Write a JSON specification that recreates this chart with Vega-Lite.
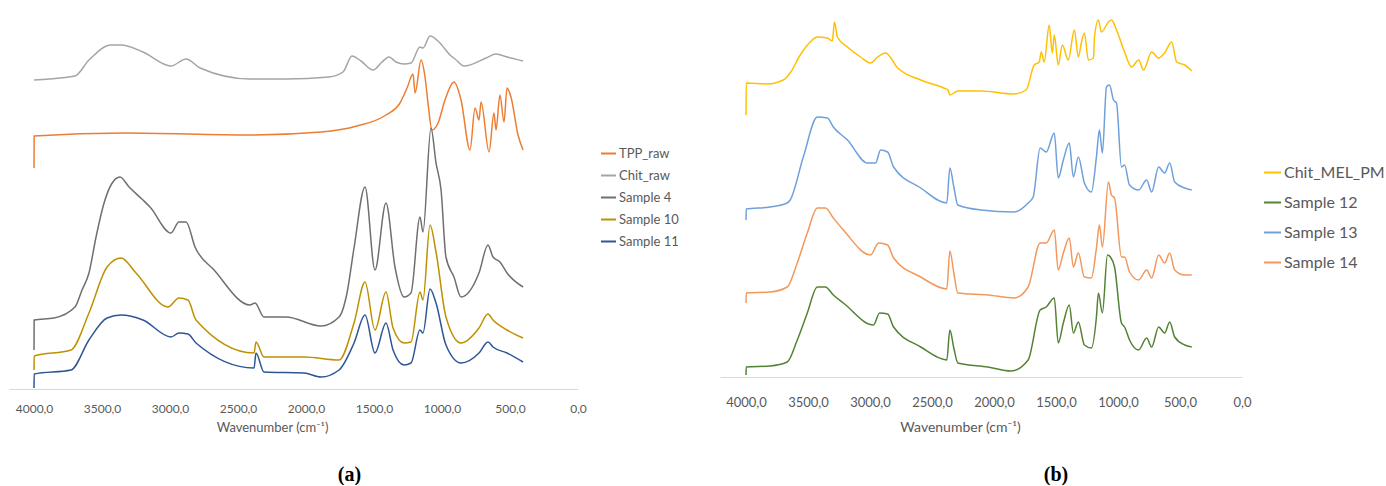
{
  "$schema": "https://vega.github.io/schema/vega-lite/v6.json",
  "background": "white",
  "padding": {"left": 9, "top": 10, "right": 0, "bottom": 0},
  "bounds": "flush",
  "spacing": 142,
  "resolve": {"scale": {"color": "independent"}, "legend": {"color": "independent"}},
  "config": {"view": {"stroke": null}, "font": "Lato"},
  "datasets": {
    "a": [
      {"s":"Chit_raw","w":4000,"v":309},{"s":"Chit_raw","w":3699,"v":313},{"s":"Chit_raw","w":3596,"v":329},{"s":"Chit_raw","w":3434,"v":344},{"s":"Chit_raw","w":3360,"v":344},{"s":"Chit_raw","w":3199,"v":337},{"s":"Chit_raw","w":2993,"v":323},{"s":"Chit_raw","w":2882,"v":330},{"s":"Chit_raw","w":2779,"v":321},{"s":"Chit_raw","w":2412,"v":310},{"s":"Chit_raw","w":2147,"v":310},{"s":"Chit_raw","w":1831,"v":312},{"s":"Chit_raw","w":1728,"v":317},{"s":"Chit_raw","w":1662,"v":333},{"s":"Chit_raw","w":1596,"v":328},{"s":"Chit_raw","w":1507,"v":319},{"s":"Chit_raw","w":1441,"v":327},{"s":"Chit_raw","w":1390,"v":332},{"s":"Chit_raw","w":1338,"v":327},{"s":"Chit_raw","w":1279,"v":325},{"s":"Chit_raw","w":1228,"v":326},{"s":"Chit_raw","w":1162,"v":342},{"s":"Chit_raw","w":1140,"v":341},{"s":"Chit_raw","w":1088,"v":353},{"s":"Chit_raw","w":1022,"v":347},{"s":"Chit_raw","w":941,"v":334},{"s":"Chit_raw","w":904,"v":330},{"s":"Chit_raw","w":838,"v":323},{"s":"Chit_raw","w":676,"v":331},{"s":"Chit_raw","w":603,"v":335},{"s":"Chit_raw","w":522,"v":332},{"s":"Chit_raw","w":404,"v":328},
      {"s":"TPP_raw","w":4000,"v":221},{"s":"TPP_raw","w":3999,"v":253},{"s":"TPP_raw","w":3331,"v":256},{"s":"TPP_raw","w":2412,"v":254},{"s":"TPP_raw","w":1890,"v":257},{"s":"TPP_raw","w":1625,"v":263},{"s":"TPP_raw","w":1412,"v":274},{"s":"TPP_raw","w":1309,"v":286},{"s":"TPP_raw","w":1257,"v":301},{"s":"TPP_raw","w":1213,"v":315},{"s":"TPP_raw","w":1198,"v":296},{"s":"TPP_raw","w":1154,"v":329},{"s":"TPP_raw","w":1125,"v":312},{"s":"TPP_raw","w":1103,"v":286},{"s":"TPP_raw","w":1074,"v":259},{"s":"TPP_raw","w":1029,"v":266},{"s":"TPP_raw","w":978,"v":289},{"s":"TPP_raw","w":912,"v":307},{"s":"TPP_raw","w":860,"v":289},{"s":"TPP_raw","w":794,"v":239},{"s":"TPP_raw","w":757,"v":281},{"s":"TPP_raw","w":728,"v":269},{"s":"TPP_raw","w":713,"v":287},{"s":"TPP_raw","w":654,"v":237},{"s":"TPP_raw","w":618,"v":276},{"s":"TPP_raw","w":603,"v":259},{"s":"TPP_raw","w":574,"v":294},{"s":"TPP_raw","w":544,"v":267},{"s":"TPP_raw","w":522,"v":301},{"s":"TPP_raw","w":493,"v":292},{"s":"TPP_raw","w":441,"v":254},{"s":"TPP_raw","w":404,"v":239},
      {"s":"Sample 4","w":4000,"v":39},{"s":"Sample 4","w":3999,"v":69},{"s":"Sample 4","w":3853,"v":71},{"s":"Sample 4","w":3699,"v":82},{"s":"Sample 4","w":3647,"v":99},{"s":"Sample 4","w":3596,"v":116},{"s":"Sample 4","w":3544,"v":152},{"s":"Sample 4","w":3485,"v":186},{"s":"Sample 4","w":3430,"v":205},{"s":"Sample 4","w":3368,"v":212},{"s":"Sample 4","w":3301,"v":202},{"s":"Sample 4","w":3199,"v":189},{"s":"Sample 4","w":3147,"v":182},{"s":"Sample 4","w":2993,"v":156},{"s":"Sample 4","w":2934,"v":167},{"s":"Sample 4","w":2882,"v":167},{"s":"Sample 4","w":2816,"v":142},{"s":"Sample 4","w":2676,"v":119},{"s":"Sample 4","w":2412,"v":84},{"s":"Sample 4","w":2375,"v":86},{"s":"Sample 4","w":2309,"v":72},{"s":"Sample 4","w":2147,"v":72},{"s":"Sample 4","w":1890,"v":63},{"s":"Sample 4","w":1757,"v":72},{"s":"Sample 4","w":1700,"v":95},{"s":"Sample 4","w":1647,"v":141},{"s":"Sample 4","w":1566,"v":202},{"s":"Sample 4","w":1493,"v":119},{"s":"Sample 4","w":1412,"v":186},{"s":"Sample 4","w":1346,"v":122},{"s":"Sample 4","w":1279,"v":92},{"s":"Sample 4","w":1228,"v":96},{"s":"Sample 4","w":1162,"v":172},{"s":"Sample 4","w":1140,"v":157},{"s":"Sample 4","w":1081,"v":261},{"s":"Sample 4","w":1044,"v":226},{"s":"Sample 4","w":1007,"v":199},{"s":"Sample 4","w":971,"v":132},{"s":"Sample 4","w":912,"v":112},{"s":"Sample 4","w":860,"v":92},{"s":"Sample 4","w":728,"v":116},{"s":"Sample 4","w":662,"v":144},{"s":"Sample 4","w":625,"v":132},{"s":"Sample 4","w":574,"v":127},{"s":"Sample 4","w":522,"v":116},{"s":"Sample 4","w":404,"v":102},
      {"s":"Sample 10","w":4000,"v":19},{"s":"Sample 10","w":3999,"v":33},{"s":"Sample 10","w":3728,"v":39},{"s":"Sample 10","w":3596,"v":76},{"s":"Sample 10","w":3463,"v":122},{"s":"Sample 10","w":3360,"v":131},{"s":"Sample 10","w":3250,"v":116},{"s":"Sample 10","w":3015,"v":82},{"s":"Sample 10","w":2934,"v":91},{"s":"Sample 10","w":2868,"v":89},{"s":"Sample 10","w":2809,"v":69},{"s":"Sample 10","w":2382,"v":36},{"s":"Sample 10","w":2368,"v":47},{"s":"Sample 10","w":2309,"v":32},{"s":"Sample 10","w":2015,"v":32},{"s":"Sample 10","w":1757,"v":29},{"s":"Sample 10","w":1647,"v":66},{"s":"Sample 10","w":1566,"v":107},{"s":"Sample 10","w":1493,"v":59},{"s":"Sample 10","w":1412,"v":97},{"s":"Sample 10","w":1360,"v":61},{"s":"Sample 10","w":1279,"v":46},{"s":"Sample 10","w":1228,"v":47},{"s":"Sample 10","w":1162,"v":97},{"s":"Sample 10","w":1140,"v":89},{"s":"Sample 10","w":1088,"v":164},{"s":"Sample 10","w":1044,"v":137},{"s":"Sample 10","w":971,"v":72},{"s":"Sample 10","w":860,"v":46},{"s":"Sample 10","w":728,"v":61},{"s":"Sample 10","w":662,"v":75},{"s":"Sample 10","w":625,"v":69},{"s":"Sample 10","w":522,"v":59},{"s":"Sample 10","w":404,"v":51},
      {"s":"Sample 11","w":4000,"v":1},{"s":"Sample 11","w":3999,"v":15},{"s":"Sample 11","w":3728,"v":19},{"s":"Sample 11","w":3596,"v":49},{"s":"Sample 11","w":3463,"v":71},{"s":"Sample 11","w":3360,"v":74},{"s":"Sample 11","w":3199,"v":69},{"s":"Sample 11","w":2993,"v":52},{"s":"Sample 11","w":2934,"v":56},{"s":"Sample 11","w":2868,"v":55},{"s":"Sample 11","w":2809,"v":46},{"s":"Sample 11","w":2382,"v":21},{"s":"Sample 11","w":2368,"v":36},{"s":"Sample 11","w":2309,"v":17},{"s":"Sample 11","w":2015,"v":16},{"s":"Sample 11","w":1890,"v":12},{"s":"Sample 11","w":1757,"v":19},{"s":"Sample 11","w":1647,"v":46},{"s":"Sample 11","w":1566,"v":74},{"s":"Sample 11","w":1493,"v":36},{"s":"Sample 11","w":1412,"v":66},{"s":"Sample 11","w":1360,"v":39},{"s":"Sample 11","w":1279,"v":24},{"s":"Sample 11","w":1228,"v":26},{"s":"Sample 11","w":1162,"v":59},{"s":"Sample 11","w":1140,"v":56},{"s":"Sample 11","w":1088,"v":100},{"s":"Sample 11","w":1044,"v":86},{"s":"Sample 11","w":971,"v":44},{"s":"Sample 11","w":860,"v":26},{"s":"Sample 11","w":728,"v":36},{"s":"Sample 11","w":662,"v":47},{"s":"Sample 11","w":625,"v":42},{"s":"Sample 11","w":522,"v":36},{"s":"Sample 11","w":404,"v":27}
    ],
    "b": [
      {"s":"Chit_MEL_PM","w":4000,"v":262},{"s":"Chit_MEL_PM","w":3999,"v":294},{"s":"Chit_MEL_PM","w":3830,"v":293},{"s":"Chit_MEL_PM","w":3700,"v":297},{"s":"Chit_MEL_PM","w":3644,"v":304},{"s":"Chit_MEL_PM","w":3563,"v":322},{"s":"Chit_MEL_PM","w":3482,"v":335},{"s":"Chit_MEL_PM","w":3425,"v":340},{"s":"Chit_MEL_PM","w":3344,"v":339},{"s":"Chit_MEL_PM","w":3304,"v":336},{"s":"Chit_MEL_PM","w":3287,"v":355},{"s":"Chit_MEL_PM","w":3263,"v":340},{"s":"Chit_MEL_PM","w":3182,"v":330},{"s":"Chit_MEL_PM","w":3077,"v":320},{"s":"Chit_MEL_PM","w":2996,"v":314},{"s":"Chit_MEL_PM","w":2939,"v":320},{"s":"Chit_MEL_PM","w":2874,"v":324},{"s":"Chit_MEL_PM","w":2777,"v":309},{"s":"Chit_MEL_PM","w":2591,"v":297},{"s":"Chit_MEL_PM","w":2405,"v":289},{"s":"Chit_MEL_PM","w":2372,"v":287},{"s":"Chit_MEL_PM","w":2356,"v":282},{"s":"Chit_MEL_PM","w":2292,"v":286},{"s":"Chit_MEL_PM","w":2105,"v":286},{"s":"Chit_MEL_PM","w":1838,"v":283},{"s":"Chit_MEL_PM","w":1741,"v":287},{"s":"Chit_MEL_PM","w":1676,"v":312},{"s":"Chit_MEL_PM","w":1636,"v":315},{"s":"Chit_MEL_PM","w":1619,"v":325},{"s":"Chit_MEL_PM","w":1595,"v":315},{"s":"Chit_MEL_PM","w":1555,"v":352},{"s":"Chit_MEL_PM","w":1530,"v":324},{"s":"Chit_MEL_PM","w":1514,"v":342},{"s":"Chit_MEL_PM","w":1482,"v":312},{"s":"Chit_MEL_PM","w":1449,"v":332},{"s":"Chit_MEL_PM","w":1401,"v":317},{"s":"Chit_MEL_PM","w":1352,"v":347},{"s":"Chit_MEL_PM","w":1320,"v":320},{"s":"Chit_MEL_PM","w":1296,"v":334},{"s":"Chit_MEL_PM","w":1271,"v":344},{"s":"Chit_MEL_PM","w":1239,"v":317},{"s":"Chit_MEL_PM","w":1198,"v":319},{"s":"Chit_MEL_PM","w":1190,"v":340},{"s":"Chit_MEL_PM","w":1158,"v":357},{"s":"Chit_MEL_PM","w":1134,"v":345},{"s":"Chit_MEL_PM","w":1077,"v":355},{"s":"Chit_MEL_PM","w":1053,"v":357},{"s":"Chit_MEL_PM","w":1012,"v":347},{"s":"Chit_MEL_PM","w":947,"v":325},{"s":"Chit_MEL_PM","w":891,"v":310},{"s":"Chit_MEL_PM","w":834,"v":317},{"s":"Chit_MEL_PM","w":794,"v":307},{"s":"Chit_MEL_PM","w":729,"v":325},{"s":"Chit_MEL_PM","w":672,"v":319},{"s":"Chit_MEL_PM","w":624,"v":324},{"s":"Chit_MEL_PM","w":567,"v":335},{"s":"Chit_MEL_PM","w":527,"v":315},{"s":"Chit_MEL_PM","w":462,"v":312},{"s":"Chit_MEL_PM","w":405,"v":306},
      {"s":"Sample 13","w":4000,"v":157},{"s":"Sample 13","w":3999,"v":168},{"s":"Sample 13","w":3806,"v":170},{"s":"Sample 13","w":3668,"v":174},{"s":"Sample 13","w":3644,"v":177},{"s":"Sample 13","w":3538,"v":220},{"s":"Sample 13","w":3425,"v":260},{"s":"Sample 13","w":3344,"v":259},{"s":"Sample 13","w":3296,"v":250},{"s":"Sample 13","w":3182,"v":237},{"s":"Sample 13","w":3020,"v":214},{"s":"Sample 13","w":2955,"v":214},{"s":"Sample 13","w":2915,"v":227},{"s":"Sample 13","w":2858,"v":225},{"s":"Sample 13","w":2810,"v":210},{"s":"Sample 13","w":2591,"v":189},{"s":"Sample 13","w":2381,"v":174},{"s":"Sample 13","w":2356,"v":209},{"s":"Sample 13","w":2324,"v":190},{"s":"Sample 13","w":2292,"v":172},{"s":"Sample 13","w":2105,"v":167},{"s":"Sample 13","w":1838,"v":165},{"s":"Sample 13","w":1725,"v":174},{"s":"Sample 13","w":1684,"v":180},{"s":"Sample 13","w":1628,"v":229},{"s":"Sample 13","w":1579,"v":225},{"s":"Sample 13","w":1514,"v":244},{"s":"Sample 13","w":1482,"v":199},{"s":"Sample 13","w":1441,"v":217},{"s":"Sample 13","w":1393,"v":234},{"s":"Sample 13","w":1360,"v":200},{"s":"Sample 13","w":1320,"v":220},{"s":"Sample 13","w":1271,"v":194},{"s":"Sample 13","w":1215,"v":185},{"s":"Sample 13","w":1174,"v":220},{"s":"Sample 13","w":1150,"v":247},{"s":"Sample 13","w":1126,"v":224},{"s":"Sample 13","w":1093,"v":290},{"s":"Sample 13","w":1069,"v":292},{"s":"Sample 13","w":1036,"v":277},{"s":"Sample 13","w":1012,"v":274},{"s":"Sample 13","w":972,"v":210},{"s":"Sample 13","w":947,"v":212},{"s":"Sample 13","w":907,"v":192},{"s":"Sample 13","w":834,"v":187},{"s":"Sample 13","w":769,"v":197},{"s":"Sample 13","w":729,"v":185},{"s":"Sample 13","w":672,"v":210},{"s":"Sample 13","w":624,"v":204},{"s":"Sample 13","w":583,"v":214},{"s":"Sample 13","w":543,"v":195},{"s":"Sample 13","w":462,"v":189},{"s":"Sample 13","w":405,"v":187},
      {"s":"Sample 14","w":4000,"v":74},{"s":"Sample 14","w":3999,"v":84},{"s":"Sample 14","w":3806,"v":85},{"s":"Sample 14","w":3668,"v":90},{"s":"Sample 14","w":3587,"v":114},{"s":"Sample 14","w":3506,"v":144},{"s":"Sample 14","w":3425,"v":169},{"s":"Sample 14","w":3360,"v":169},{"s":"Sample 14","w":3296,"v":159},{"s":"Sample 14","w":3215,"v":147},{"s":"Sample 14","w":2996,"v":122},{"s":"Sample 14","w":2931,"v":134},{"s":"Sample 14","w":2858,"v":132},{"s":"Sample 14","w":2810,"v":119},{"s":"Sample 14","w":2591,"v":100},{"s":"Sample 14","w":2381,"v":88},{"s":"Sample 14","w":2356,"v":126},{"s":"Sample 14","w":2324,"v":104},{"s":"Sample 14","w":2292,"v":84},{"s":"Sample 14","w":2049,"v":82},{"s":"Sample 14","w":1838,"v":79},{"s":"Sample 14","w":1725,"v":90},{"s":"Sample 14","w":1628,"v":134},{"s":"Sample 14","w":1579,"v":134},{"s":"Sample 14","w":1514,"v":147},{"s":"Sample 14","w":1482,"v":107},{"s":"Sample 14","w":1441,"v":124},{"s":"Sample 14","w":1393,"v":139},{"s":"Sample 14","w":1360,"v":110},{"s":"Sample 14","w":1320,"v":124},{"s":"Sample 14","w":1271,"v":100},{"s":"Sample 14","w":1215,"v":99},{"s":"Sample 14","w":1174,"v":129},{"s":"Sample 14","w":1150,"v":152},{"s":"Sample 14","w":1126,"v":130},{"s":"Sample 14","w":1077,"v":195},{"s":"Sample 14","w":1053,"v":182},{"s":"Sample 14","w":1028,"v":179},{"s":"Sample 14","w":972,"v":120},{"s":"Sample 14","w":947,"v":120},{"s":"Sample 14","w":907,"v":105},{"s":"Sample 14","w":834,"v":97},{"s":"Sample 14","w":769,"v":107},{"s":"Sample 14","w":729,"v":99},{"s":"Sample 14","w":672,"v":122},{"s":"Sample 14","w":624,"v":114},{"s":"Sample 14","w":583,"v":124},{"s":"Sample 14","w":543,"v":107},{"s":"Sample 14","w":462,"v":102},{"s":"Sample 14","w":405,"v":102},
      {"s":"Sample 12","w":4000,"v":2},{"s":"Sample 12","w":3999,"v":10},{"s":"Sample 12","w":3806,"v":11},{"s":"Sample 12","w":3668,"v":15},{"s":"Sample 12","w":3587,"v":37},{"s":"Sample 12","w":3506,"v":64},{"s":"Sample 12","w":3425,"v":90},{"s":"Sample 12","w":3360,"v":90},{"s":"Sample 12","w":3296,"v":82},{"s":"Sample 12","w":3215,"v":74},{"s":"Sample 12","w":2972,"v":52},{"s":"Sample 12","w":2923,"v":64},{"s":"Sample 12","w":2858,"v":63},{"s":"Sample 12","w":2810,"v":50},{"s":"Sample 12","w":2591,"v":30},{"s":"Sample 12","w":2381,"v":17},{"s":"Sample 12","w":2356,"v":47},{"s":"Sample 12","w":2324,"v":29},{"s":"Sample 12","w":2292,"v":14},{"s":"Sample 12","w":2049,"v":10},{"s":"Sample 12","w":1862,"v":6},{"s":"Sample 12","w":1725,"v":17},{"s":"Sample 12","w":1628,"v":67},{"s":"Sample 12","w":1579,"v":70},{"s":"Sample 12","w":1514,"v":79},{"s":"Sample 12","w":1482,"v":34},{"s":"Sample 12","w":1441,"v":54},{"s":"Sample 12","w":1393,"v":72},{"s":"Sample 12","w":1360,"v":44},{"s":"Sample 12","w":1320,"v":55},{"s":"Sample 12","w":1271,"v":32},{"s":"Sample 12","w":1215,"v":29},{"s":"Sample 12","w":1174,"v":60},{"s":"Sample 12","w":1158,"v":84},{"s":"Sample 12","w":1126,"v":64},{"s":"Sample 12","w":1085,"v":122},{"s":"Sample 12","w":1061,"v":120},{"s":"Sample 12","w":1028,"v":110},{"s":"Sample 12","w":972,"v":54},{"s":"Sample 12","w":947,"v":50},{"s":"Sample 12","w":907,"v":37},{"s":"Sample 12","w":834,"v":27},{"s":"Sample 12","w":769,"v":39},{"s":"Sample 12","w":729,"v":30},{"s":"Sample 12","w":672,"v":50},{"s":"Sample 12","w":624,"v":44},{"s":"Sample 12","w":583,"v":55},{"s":"Sample 12","w":543,"v":40},{"s":"Sample 12","w":462,"v":32},{"s":"Sample 12","w":405,"v":30}
    ]
  },
  "hconcat": [
    {
      "width": 569,
      "height": 379,
      "data": {"name": "a"},
      "title": {"text": "(a)", "orient": "bottom", "anchor": "middle", "dx": 56, "offset": 31, "font": "Liberation Serif", "fontWeight": "bold", "fontSize": 20, "color": "#000000"},
      "mark": {"type": "line", "strokeWidth": 1.5, "interpolate": "monotone"},
      "encoding": {
        "x": {
          "field": "w", "type": "quantitative",
          "scale": {"domain": [4184, 0], "nice": false, "zero": false},
          "axis": {
            "values": [4000, 3500, 3000, 2500, 2000, 1500, 1000, 500, 0],
            "labelExpr": "replace(format(datum.value, '.1f'), '.', ',')",
            "title": "Wavenumber (cm⁻¹)",
            "grid": false, "ticks": false, "tickSize": 0,
            "domainColor": "#D9D9D9", "domainWidth": 1,
            "labelColor": "#595959", "labelFont": "Lato", "labelFontSize": 12,
            "labelPadding": 19, "labelBaseline": "middle", "labelFlush": false, "labelOverlap": false,
            "titleColor": "#595959", "titleFont": "Lato", "titleFontSize": 13, "titleFontWeight": "normal",
            "titleX": 263, "titleY": 38, "titleBaseline": "middle", "titleAlign": "center"
          }
        },
        "y": {"field": "v", "type": "quantitative", "scale": {"domain": [0, 379], "nice": false, "zero": false}, "axis": null},
        "color": {
          "field": "s", "type": "nominal",
          "scale": {"domain": ["TPP_raw", "Chit_raw", "Sample 4", "Sample 10", "Sample 11"], "range": ["#ED7D31", "#A5A5A5", "#6F6F6F", "#BF9000", "#2F5597"]},
          "legend": {"orient": "none", "legendX": 591, "legendY": 135, "title": null, "padding": 0, "symbolType": "stroke", "symbolSize": 225, "symbolStrokeWidth": 2, "labelFont": "Lato", "labelFontSize": 13, "labelColor": "#595959", "rowPadding": 6, "labelOffset": 2}
        }
      }
    },
    {
      "width": 522,
      "height": 367,
      "data": {"name": "b"},
      "title": {"text": "(b)", "orient": "bottom", "anchor": "middle", "dx": 75, "offset": 31, "font": "Liberation Serif", "fontWeight": "bold", "fontSize": 20, "color": "#000000"},
      "mark": {"type": "line", "strokeWidth": 1.5, "interpolate": "monotone"},
      "encoding": {
        "x": {
          "field": "w", "type": "quantitative",
          "scale": {"domain": [4210, 0], "nice": false, "zero": false},
          "axis": {
            "values": [4000, 3500, 3000, 2500, 2000, 1500, 1000, 500, 0],
            "labelExpr": "replace(format(datum.value, '.1f'), '.', ',')",
            "title": "Wavenumber (cm⁻¹)",
            "grid": false, "ticks": false, "tickSize": 0,
            "domainColor": "#D9D9D9", "domainWidth": 1,
            "labelColor": "#595959", "labelFont": "Lato", "labelFontSize": 13,
            "labelPadding": 25, "labelBaseline": "middle", "labelFlush": false, "labelOverlap": false,
            "titleColor": "#595959", "titleFont": "Lato", "titleFontSize": 14, "titleFontWeight": "normal",
            "titleX": 240, "titleY": 50, "titleBaseline": "middle", "titleAlign": "center"
          }
        },
        "y": {"field": "v", "type": "quantitative", "scale": {"domain": [0, 367], "nice": false, "zero": false}, "axis": null},
        "color": {
          "field": "s", "type": "nominal",
          "scale": {"domain": ["Chit_MEL_PM", "Sample 12", "Sample 13", "Sample 14"], "range": ["#FFC000", "#548235", "#6FA0DC", "#F4975A"]},
          "legend": {"orient": "none", "legendX": 543, "legendY": 153, "title": null, "padding": 0, "symbolType": "stroke", "symbolSize": 289, "symbolStrokeWidth": 2, "labelFont": "Lato", "labelFontSize": 16, "labelColor": "#595959", "rowPadding": 12, "labelOffset": 2}
        }
      }
    }
  ]
}
